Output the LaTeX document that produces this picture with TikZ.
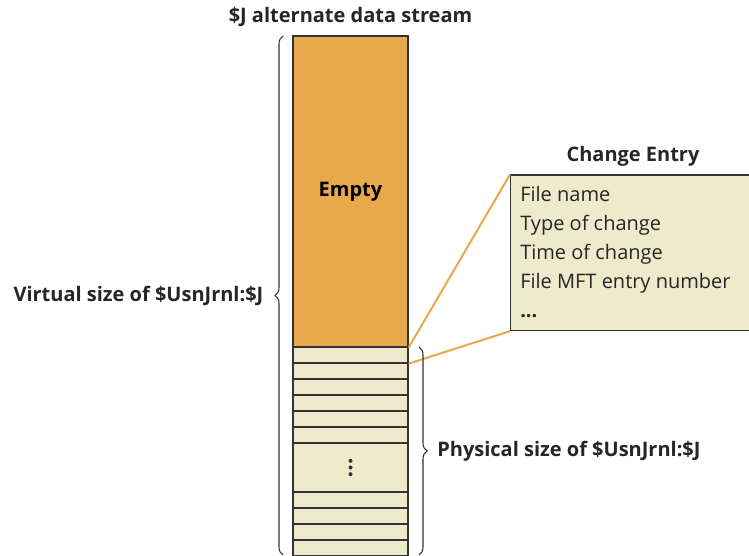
\documentclass[tikz,border=0pt]{standalone}
\usepackage{fontspec}
\setmainfont{Open Sans}
\usepackage{xcolor}
\definecolor{orangeJ}{HTML}{E8A84C}
\definecolor{beigeJ}{HTML}{EEEBCD}
\definecolor{lineJ}{HTML}{333333}
\usetikzlibrary{positioning,calc,decorations.pathreplacing}

\begin{document}
\begin{tikzpicture}[x=0.75pt,y=-0.75pt,
 block/.style={draw=lineJ,line width=0.9pt,minimum width=86.25pt,inner sep=0pt},
 emptyBlock/.style={block,fill=orangeJ,minimum height=233.25pt,font=\bfseries\fontsize{15}{17}\selectfont},
 cell/.style={block,fill=beigeJ,minimum height=12pt},
 gapCell/.style={cell,minimum height=36.75pt},
 caption/.style={font=\bfseries\fontsize{15}{17}\selectfont,text=black!85},
 entryBox/.style={draw=lineJ,fill=beigeJ,line width=0.9pt,minimum width=195pt,
 minimum height=116.6pt,anchor=north west,inner sep=0pt},
 zoomLine/.style={draw=orangeJ,line width=1.5pt},
 brace/.style={draw=lineJ,line width=0.8pt,decorate,decoration={brace,amplitude=6pt}}]
 \useasboundingbox (0,0) rectangle (749,556);
 % the $J stream
 \node[caption] (title) at (350.5,17) {\$J alternate data stream};
 \node[emptyBlock] (empty) at (350.5,191.5) {Empty};
 \foreach \y [count=\i] in {355,371,387,403,419,435}
 \node[cell] (row\i) at (350.5,\y) {};
 \node[gapCell] (gap) at (350.5,467.5) {};
 \foreach \d in {-6.7,0,6.7}
 \fill[lineJ] ($(gap.center)+(0,\d)$) circle (2);
 \foreach \y [count=\i from 7] in {500,516,532,548}
 \node[cell] (row\i) at (350.5,\y) {};
 % one change entry
 \node[caption] (entryTitle) at (633,156) {Change Entry};
 \node[entryBox] (entry) at (510,174.5) {};
 \node[anchor=north west,align=left,inner sep=0pt,text=black!85,
 font=\fontsize{15}{21.75}\selectfont] (fields) at (520,186)
 {File name\\Type of change\\Time of change\\File MFT entry number\\\textbf{...}};
 \draw[zoomLine] (empty.south east) -- (entry.north west);
 \draw[zoomLine] (row1.south east) -- (entry.south west);
 % sizes
 \coordinate (virtualBot) at (283,555);
 \coordinate (virtualTop) at (283,36);
 \coordinate (physTop) at (419,347);
 \coordinate (physBot) at (419,555);
 \draw[brace] (virtualBot) -- node[caption,left=11pt] (virtual) {Virtual size of \$UsnJrnl:\$J} (virtualTop);
 \draw[brace] (physTop) -- node[caption,right=10pt] (physical) {Physical size of \$UsnJrnl:\$J} (physBot);
\end{tikzpicture}
\end{document}
